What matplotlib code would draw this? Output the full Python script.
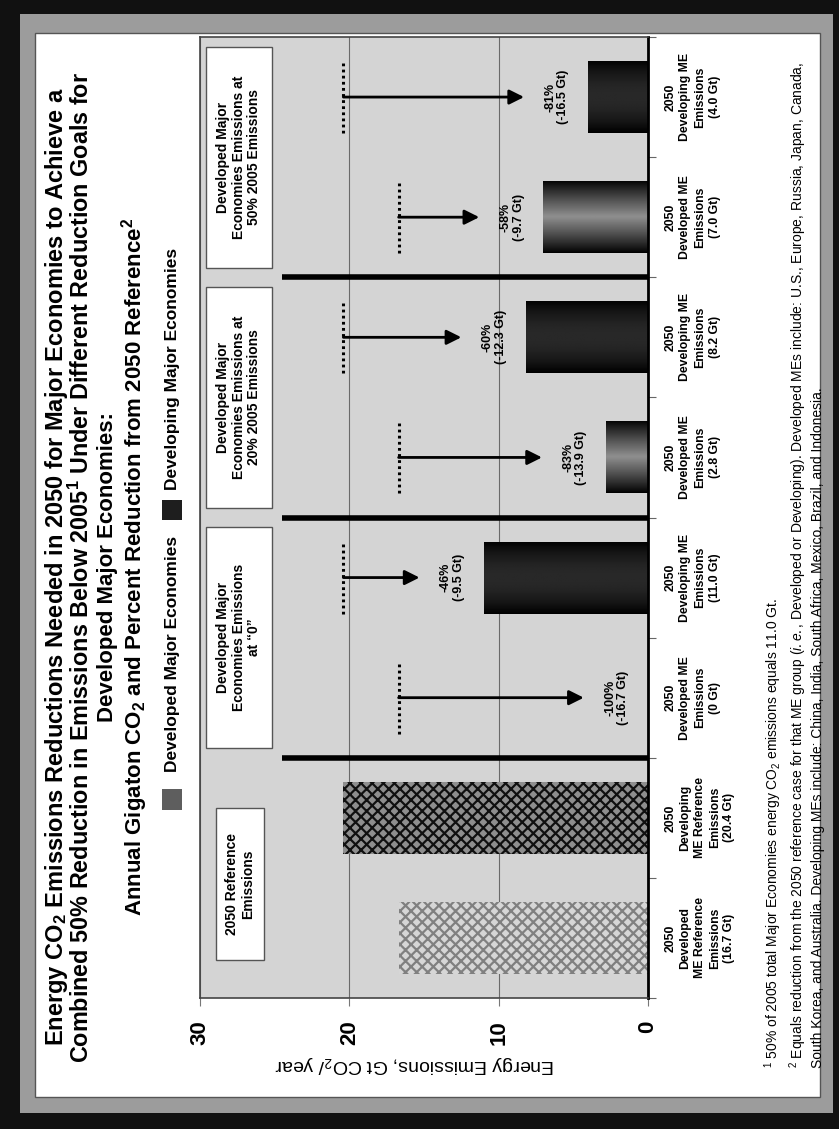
import numpy as np
import matplotlib
matplotlib.use("Agg")
import matplotlib.pyplot as plt
from matplotlib.patches import Rectangle

plt.rcParams['font.family'] = ['Liberation Sans', 'DejaVu Sans']
plt.rcParams['mathtext.fontset'] = 'custom'
plt.rcParams['mathtext.rm'] = 'Liberation Sans'
plt.rcParams['mathtext.it'] = 'Liberation Sans:italic'
plt.rcParams['mathtext.bf'] = 'Liberation Sans:bold'
plt.rcParams['mathtext.default'] = 'regular'
plt.rcParams['hatch.linewidth'] = 1.6

# --- data ---
categories = [
    "2050\nDeveloped\nME Reference\nEmissions\n(16.7 Gt)",
    "2050\nDeveloping\nME Reference\nEmissions\n(20.4 Gt)",
    "2050\nDeveloped ME\nEmissions\n(0 Gt)",
    "2050\nDeveloping ME\nEmissions\n(11.0 Gt)",
    "2050\nDeveloped ME\nEmissions\n(2.8 Gt)",
    "2050\nDeveloping ME\nEmissions\n(8.2 Gt)",
    "2050\nDeveloped ME\nEmissions\n(7.0 Gt)",
    "2050\nDeveloping ME\nEmissions\n(4.0 Gt)",
]
emissions = [16.7, 20.4, 0.0, 11.0, 2.8, 8.2, 7.0, 4.0]
groups = ["Developed", "Developing"] * 4
reference = {"Developed": 16.7, "Developing": 20.4}
pct_change = [None, None, "-100%", "-46%", "-83%", "-60%", "-58%", "-81%"]
gt_change = [None, None, "-16.7", "-9.5", "-13.9", "-12.3", "-9.7", "-16.5"]
scenario_titles = [
    "2050 Reference\nEmissions",
    "Developed Major\nEconomies Emissions\nat \u201c0\u201d",
    "Developed Major\nEconomies Emissions at\n20% 2005 Emissions",
    "Developed Major\nEconomies Emissions at\n50% 2005 Emissions",
]
value_ticks = [0, 10, 20, 30]

title_lines = [
    r"Energy CO$_\mathbf{2}$ Emissions Reductions Needed in 2050 for Major Economies to Achieve a",
    r"Combined 50% Reduction in Emissions Below 2005$^\mathbf{1}$ Under Different Reduction Goals for",
    "Developed Major Economies:",
    r"Annual Gigaton CO$_\mathbf{2}$ and Percent Reduction from 2050 Reference$^\mathbf{2}$",
]
footnotes = (
    r"$^1$ 50% of 2005 total Major Economies energy CO$_2$ emissions equals 11.0 Gt." "\n"
    r"$^2$ Equals reduction from the 2050 reference case for that ME group ($\it{i.e.}$, Developed or Developing). "
    r"Developed MEs include: U.S., Europe, Russia, Japan, Canada," "\n"
    "South Korea, and Australia. Developing MEs include: China, India, South Africa, Mexico, Brazil, and Indonesia."
)

W, H = 839, 1129


def fx(px):
    return px / W


def fy(py):
    return 1 - py / H


fig = plt.figure(figsize=(W / 100, H / 100), dpi=100)
fig.patch.set_facecolor('#111111')
# grey frame and white page, kept under the axes
fig.add_artist(Rectangle((fx(20), fy(1113)), fx(833) - fx(20), fy(14) - fy(1113),
                         transform=fig.transFigure, fc='#9c9c9c', ec='none', zorder=-3))
fig.add_artist(Rectangle((fx(35), fy(1097)), fx(820) - fx(35), fy(33) - fy(1097),
                         transform=fig.transFigure, fc='white', ec='#555555', lw=1,
                         zorder=-2))

ax = fig.add_axes([fx(200), fy(998), (648 - 200) / W, (998 - 37) / H])
ax.set_facecolor('#d4d4d4')

y = np.arange(len(emissions))
bars = ax.barh(y, emissions, height=0.6, zorder=2)

# reference bars: cross-hatched
bars[0].set(facecolor='#d6d6d6', edgecolor='#808080', hatch='xxx', linewidth=0)
bars[1].set(facecolor='#8e8e8e', edgecolor='#101010', hatch='xxx', linewidth=0)

# scenario bars: shaded like a cylinder
t = np.linspace(-1, 1, 80)
for i in range(2, len(emissions)):
    bar = bars[i]
    bar.set(facecolor='none', linewidth=0)
    if emissions[i] <= 0:
        continue
    if groups[i] == "Developed":
        shade = 0.56 * (1 - np.abs(t)) ** 0.9
    else:
        shade = 0.16 * (1 - np.abs(t) ** 2)
    im = ax.imshow(shade[:, None], cmap='gray', vmin=0, vmax=1, aspect='auto',
                   origin='lower', interpolation='bilinear',
                   extent=(0, emissions[i], i - 0.3, i + 0.3), zorder=2)
    im.set_clip_path(bar)

# dotted reference level + arrow + change label
for i in range(2, len(emissions)):
    ref = reference[groups[i]]
    ax.plot([ref, ref], [i - 0.3, i + 0.3], color='black', lw=2.2,
            linestyle=(0, (0.9, 1.1)), zorder=3)
    ax.annotate('', xy=(emissions[i] + 4.3, i), xytext=(ref, i),
                arrowprops=dict(arrowstyle='-|>,head_length=0.8,head_width=0.4',
                                color='black', lw=2, shrinkA=0, shrinkB=0,
                                mutation_scale=11), zorder=3)
    ax.text(emissions[i] + 2.1, i, f"{pct_change[i]}\n({gt_change[i]} Gt)",
            rotation=90, ha='center', va='center', fontsize=9, fontweight='bold',
            linespacing=1.1, zorder=4)

# thick separators between scenarios
ax.hlines([1.5, 3.5, 5.5], 0, 24.5, color='black', lw=4, zorder=3)

# scenario title boxes
for g, title in enumerate(scenario_titles):
    yc = 2 * g + 0.5
    if g == 0:
        x0, x1, half, yc = 25.7, 28.9, 0.63, yc - 0.05
    else:
        x0, x1, half = 25.2, 29.6, 0.92
    ax.add_patch(Rectangle((x0, yc - half), x1 - x0, 2 * half, fc='white',
                           ec='#555555', lw=1, zorder=4))
    ax.text((x0 + x1) / 2, yc, title, rotation=90, ha='center', va='center',
            fontsize=10, fontweight='bold', linespacing=1.15, zorder=5)

ax.set_xlim(30, 0)
ax.set_ylim(-0.5, len(emissions) - 0.5)

ax.set_xticks(value_ticks)
ax.set_xticklabels([str(v) for v in value_ticks], rotation=90, fontsize=16,
                   fontweight='bold')
ax.tick_params(axis='x', direction='out', length=6, width=0.8, color='#777777', pad=10)
ax.xaxis.grid(True, color='#6a6a6a', lw=0.8, zorder=1)
ax.set_axisbelow(True)

ax.yaxis.tick_right()
ax.set_yticks(y)
ax.set_yticklabels(categories, rotation=90, fontsize=8.8, fontweight='bold',
                   ha='left', va='center', multialignment='center', linespacing=1.3)
ax.set_yticks(np.arange(-0.5, len(emissions), 1), minor=True)
ax.tick_params(axis='y', which='major', length=0, pad=12)
ax.tick_params(axis='y', which='minor', direction='out', length=6, width=0.8,
               color='#666666')

for side in ['top', 'bottom', 'left']:
    ax.spines[side].set_color('#444444')
    ax.spines[side].set_linewidth(1.2)
ax.spines['right'].set_color('black')
ax.spines['right'].set_linewidth(2)

# axis title (rotated with the page)
fig.text(fx(415), fy(1065), r"Energy Emissions, Gt CO$_2$/ year", rotation=180,
         ha='center', va='center', fontsize=14)

# titles
for xpos, size, line in zip([57, 81, 108, 135], [17, 16.8, 16, 16], title_lines):
    fig.text(fx(xpos), fy(567), line, rotation=90, ha='center', va='center',
             fontsize=size, fontweight='bold')

# legend
fig.add_artist(Rectangle((fx(162), fy(810)), fx(182) - fx(162), fy(789) - fy(810),
                         transform=fig.transFigure, fc='#5e5e5e', ec='none'))
fig.text(fx(172), fy(772), "Developed Major Economies", rotation=90, ha='center',
         va='bottom', fontsize=12.5, fontweight='bold')
fig.add_artist(Rectangle((fx(162), fy(520)), fx(182) - fx(162), fy(500) - fy(520),
                         transform=fig.transFigure, fc='#1e1e1e', ec='none'))
fig.text(fx(172), fy(490), "Developing Major Economies", rotation=90, ha='center',
         va='bottom', fontsize=12.5, fontweight='bold')

# footnotes
fig.text(fx(794), fy(1068), footnotes, rotation=90, ha='center', va='bottom',
         multialignment='left', fontsize=10, linespacing=1.2)

fig.savefig("out.png", dpi=100, facecolor=fig.get_facecolor())
